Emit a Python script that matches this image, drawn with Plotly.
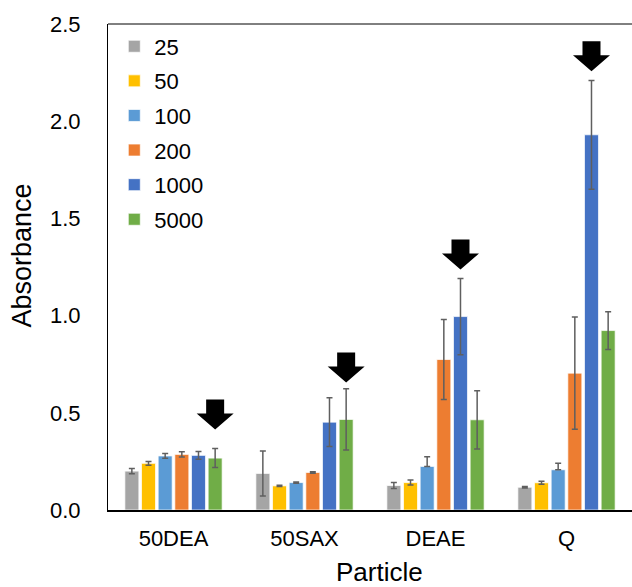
import plotly.graph_objects as go

particles = ["50DEA", "50SAX", "DEAE", "Q"]
series_names = ["25", "50", "100", "200", "1000", "5000"]
colors = ["#A5A5A5", "#FFC000", "#5B9BD5", "#ED7D31", "#4472C4", "#70AD47"]

values = {
    "25":   [0.200, 0.188, 0.126, 0.117],
    "50":   [0.240, 0.124, 0.141, 0.140],
    "100":  [0.278, 0.141, 0.224, 0.207],
    "200":  [0.286, 0.193, 0.774, 0.704],
    "1000": [0.281, 0.452, 0.995, 1.930],
    "5000": [0.267, 0.466, 0.464, 0.923],
}
err_plus = {
    "25":   [0.013, 0.116, 0.015, 0.004],
    "50":   [0.010, 0.003, 0.013, 0.008],
    "100":  [0.012, 0.003, 0.050, 0.034],
    "200":  [0.014, 0.004, 0.206, 0.289],
    "1000": [0.020, 0.125, 0.196, 0.280],
    "5000": [0.049, 0.158, 0.150, 0.097],
}
err_minus = {
    "25":   [0.013, 0.116, 0.015, 0.004],
    "50":   [0.010, 0.003, 0.013, 0.008],
    "100":  [0.012, 0.003, 0.000, 0.000],
    "200":  [0.014, 0.004, 0.206, 0.289],
    "1000": [0.020, 0.125, 0.196, 0.280],
    "5000": [0.049, 0.158, 0.150, 0.097],
}
# arrows marking the highlighted series per particle, and the y of the arrow tip
arrow_series = ["5000", "5000", "1000", "1000"]
arrow_tip_y = [0.414, 0.656, 1.237, 2.257]

x_title = "Particle"
y_title = "Absorbance"

BARGAP = 0.237
BARGROUPGAP = 0.16
FONT = "Liberation Sans, Arial, Helvetica, sans-serif"

fig = go.Figure()
for name, col in zip(series_names, colors):
    fig.add_trace(go.Bar(
        name=name, x=particles, y=values[name],
        marker=dict(color=col, line=dict(color="rgba(255,255,255,0.7)", width=1)),
        error_y=dict(type="data", symmetric=False, array=err_plus[name],
                     arrayminus=err_minus[name], color="#5f5f5f",
                     thickness=1.5, width=3),
        legendgroup=name,
    ))

# arrow shapes positioned over the chosen bar of each group
n = len(series_names)
group_w = 1 - BARGAP
slot_w = group_w / n
arrow_path = "M0,0 L-18.5,16 L-9,16 L-9,30 L9,30 L9,16 L18.5,16 Z"
shapes = []
for i, (s, ty) in enumerate(zip(arrow_series, arrow_tip_y)):
    k = series_names.index(s)
    xpos = i - group_w / 2 + (k + 0.5) * slot_w
    shapes.append(dict(type="path", xref="x", yref="y",
                       xsizemode="pixel", ysizemode="pixel",
                       xanchor=xpos, yanchor=ty, path=arrow_path,
                       fillcolor="black", line=dict(color="black", width=0)))
# top frame line
shapes.append(dict(type="line", xref="paper", yref="paper", x0=0, x1=1, y0=1, y1=1,
                   line=dict(color="black", width=1)))

annotations = [
    dict(text=x_title, xref="paper", yref="paper", x=0.519, y=-0.127,
         xanchor="center", yanchor="middle", showarrow=False,
         font=dict(size=26, family=FONT, color="black")),
    dict(text=y_title, xref="paper", yref="paper", x=-0.165, y=0.5226,
         xanchor="center", yanchor="middle", showarrow=False, textangle=-90,
         font=dict(size=27, family=FONT, color="black")),
]

fig.update_layout(
    width=632, height=587,
    margin=dict(l=108, r=0, t=24, b=77),
    paper_bgcolor="white", plot_bgcolor="white",
    barmode="group", bargap=BARGAP, bargroupgap=BARGROUPGAP,
    font=dict(family=FONT, size=22, color="black"),
    shapes=shapes,
    annotations=annotations,
    showlegend=True,
    legend=dict(x=0.012, y=0.997, xanchor="left", yanchor="top",
                bgcolor="rgba(0,0,0,0)", font=dict(size=22),
                tracegroupgap=3, traceorder="grouped"),
    xaxis=dict(showline=True, linecolor="black", linewidth=2, ticks="",
               showgrid=False, tickfont=dict(size=22), ticklabelstandoff=8),
    yaxis=dict(range=[0, 2.5], dtick=0.5, tickformat=".1f", showline=True,
               linecolor="black", linewidth=1, ticks="", showgrid=False,
               zeroline=False, tickfont=dict(size=22), ticklabelstandoff=22),
)

fig.write_html("out.html")
